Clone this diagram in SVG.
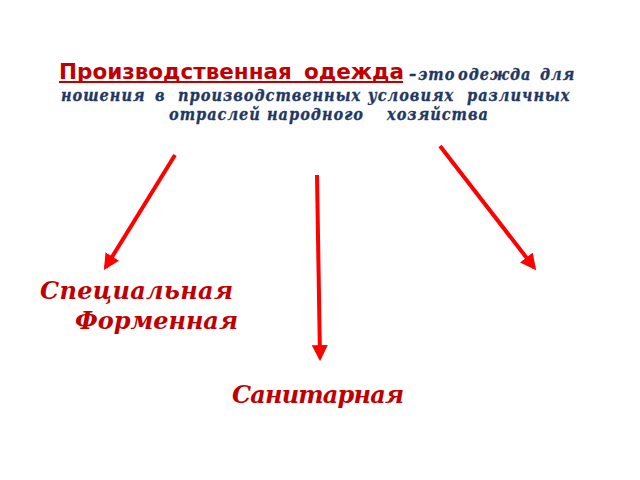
<svg xmlns="http://www.w3.org/2000/svg" width="640" height="480" viewBox="0 0 640 480">
<defs>
<style>
.def{font-family:"DejaVu Serif",serif;font-weight:bold;font-style:italic;fill:#1f3864;stroke:#1f3864;stroke-width:0.35;font-size:17.5px;letter-spacing:1.2px}
.ttl{font-family:"DejaVu Sans",sans-serif;font-weight:bold;fill:#c00000;font-size:21.5px}
.lbl{font-family:"DejaVu Serif",serif;font-weight:bold;font-style:italic;fill:#c00000;font-size:24px}
.arr{stroke:#ff0000;stroke-width:4;fill:none;marker-end:url(#ah)}
</style>
<marker id="ah" viewBox="0 0 10 10" refX="8" refY="5" markerWidth="4" markerHeight="4" orient="auto" markerUnits="strokeWidth">
<path d="M0,0 L10,5 L0,10 z" fill="#ff0000"/>
</marker>
</defs>
<rect width="640" height="480" fill="#ffffff"/>
<g id="title">
<text class="ttl" y="79"><tspan x="59">Производственная</tspan> <tspan x="304">одежда</tspan></text>
<rect x="59" y="81" width="344" height="2" fill="#c00000"/>
<g transform="scale(0.83,1)">
<text class="def" y="80"><tspan x="492.8">–</tspan> <tspan x="503.6">это</tspan> <tspan x="551.8">одежда</tspan> <tspan x="650.6">для</tspan></text>
<text class="def" y="101"><tspan x="73.5">ношения</tspan> <tspan x="186.7">в</tspan> <tspan x="214.5">производственных</tspan> <tspan x="443.4">условиях</tspan> <tspan x="562.7">различных</tspan></text>
<text class="def" y="120"><tspan x="203.6">отраслей</tspan> <tspan x="321.7">народного</tspan> <tspan x="466.3">хозяйства</tspan></text>
</g>
</g>
<g id="connectors">
<line class="arr" x1="175" y1="155" x2="105.6" y2="267.4"/>
<line class="arr" x1="317" y1="175" x2="320" y2="358"/>
<line class="arr" x1="440" y1="146" x2="534.2" y2="267.6"/>
</g>
<g id="special"><text class="lbl" x="40" y="299" textLength="193" lengthAdjust="spacing">Специальная</text></g>
<g id="uniform"><text class="lbl" x="75" y="329" textLength="163" lengthAdjust="spacing">Форменная</text></g>
<g id="sanitary"><text class="lbl" x="232" y="403" textLength="172" lengthAdjust="spacing">Санитарная</text></g>
</svg>
